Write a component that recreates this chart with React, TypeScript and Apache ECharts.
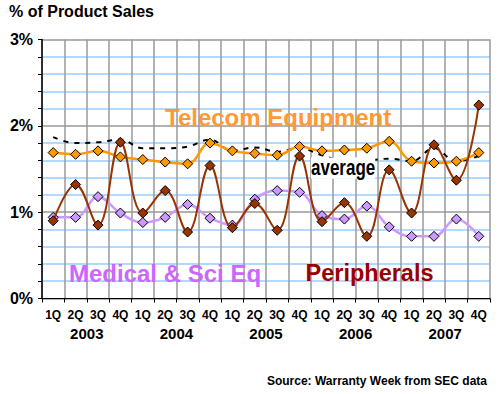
import React, { useEffect, useRef } from "react";
import * as echarts from "echarts";

const quarters = [
  "1Q", "2Q", "3Q", "4Q", "1Q", "2Q", "3Q", "4Q", "1Q", "2Q",
  "3Q", "4Q", "1Q", "2Q", "3Q", "4Q", "1Q", "2Q", "3Q", "4Q",
];
const years = ["2003", "2004", "2005", "2006", "2007"];
const telecom = [1.69, 1.67, 1.71, 1.64, 1.61, 1.58, 1.56, 1.80, 1.71, 1.68, 1.66, 1.76, 1.71, 1.72, 1.74, 1.82, 1.59, 1.57, 1.59, 1.69];
const peripherals = [0.90, 1.32, 0.85, 1.81, 0.99, 1.25, 0.77, 1.54, 0.82, 1.10, 0.79, 1.65, 0.89, 1.11, 0.72, 1.49, 0.99, 1.78, 1.37, 2.24];
const medical = [0.94, 0.94, 1.18, 0.99, 0.88, 0.94, 1.09, 0.93, 0.85, 1.15, 1.25, 1.23, 0.96, 0.92, 1.07, 0.83, 0.72, 0.72, 0.92, 0.72];
const average = [1.87, 1.80, 1.81, 1.84, 1.74, 1.74, 1.76, 1.84, 1.71, 1.75, 1.70, 1.74, 1.66, 1.60, 1.60, 1.62, 1.59, 1.74, 1.59, 1.65];

const FONT = "'Liberation Sans', Arial, sans-serif";

export default function App() {
  const ref = useRef<HTMLDivElement>(null);
  useEffect(() => {
    document.body.style.margin = "0";
    const chart = echarts.init(ref.current!, null, { renderer: "svg" });
    const marker = (color: string) => ({
      symbol: "diamond",
      symbolSize: 10,
      itemStyle: { color, borderColor: "#000", borderWidth: 1 },
    });
    chart.setOption({
      animation: false,
      backgroundColor: "#fff",
      textStyle: { fontFamily: FONT },
      grid: { left: 42, top: 39.5, width: 448, height: 259 },
      xAxis: [
        {
          type: "category",
          data: quarters,
          boundaryGap: true,
          position: "bottom",
          axisLine: { show: true, lineStyle: { color: "#000", width: 1 } },
          axisTick: { show: true, length: 4, lineStyle: { color: "#000" } },
          splitLine: { show: true, lineStyle: { color: "#999999", width: 1.5 } },
          axisLabel: { margin: 10, fontSize: 12, fontWeight: "bold", color: "#000", fontFamily: FONT, interval: 0 },
        },
        {
          type: "category",
          data: years,
          boundaryGap: true,
          position: "bottom",
          axisLine: { show: false },
          axisTick: { show: false },
          splitLine: { show: false },
          axisLabel: { margin: 27, fontSize: 15, fontWeight: "bold", color: "#000", fontFamily: FONT, interval: 0 },
        },
      ],
      yAxis: {
        type: "value",
        min: 0,
        max: 3,
        interval: 0.2,
        axisLine: { show: true, lineStyle: { color: "#000", width: 1.5 } },
        axisTick: { show: true, length: 4, lineStyle: { color: "#000" } },
        splitLine: {
          show: true,
          lineStyle: { color: ["#999999", "#99CCFF", "#99CCFF", "#99CCFF", "#99CCFF"], width: 1.5 },
        },
        axisLabel: {
          margin: 9,
          fontSize: 16,
          fontWeight: "bold",
          color: "#000",
          fontFamily: FONT,
          formatter: (v: number) =>
            Math.abs(v - Math.round(v)) < 1e-6 ? Math.round(v) + "%" : "",
        },
      },
      series: [
        {
          name: "average",
          type: "line",
          data: average,
          smooth: 0.4,
          symbol: "none",
          lineStyle: { color: "#000", width: 2, type: [5, 6] },
          z: 2,
        },
        {
          name: "Medical & Sci Eq",
          type: "line",
          data: medical,
          smooth: 0.4,
          lineStyle: { color: "#CC99FF", width: 2.5 },
          ...marker("#CC99FF"),
          z: 3,
        },
        {
          name: "Telecom Equipment",
          type: "line",
          data: telecom,
          smooth: 0.4,
          lineStyle: { color: "#FF9900", width: 2.5 },
          ...marker("#FF9900"),
          z: 4,
        },
        {
          name: "Peripherals",
          type: "line",
          data: peripherals,
          smooth: 0.4,
          lineStyle: { color: "#993300", width: 2 },
          ...marker("#993300"),
          z: 5,
        },
      ],
      graphic: [
        {
          type: "text",
          x: 9,
          y: 11.5,
          style: { text: "% of Product Sales", font: `bold 16px ${FONT}`, fill: "#000", verticalAlign: "middle", align: "left" },
        },
        {
          type: "text",
          x: 165,
          y: 117.7,
          z: 10,
          style: { text: "Telecom Equipment", font: `bold 24px ${FONT}`, fill: "#FF9933", verticalAlign: "middle", align: "left" },
        },
        {
          type: "text",
          x: 311,
          y: 168,
          scaleY: 1.25,
          z: 10,
          style: {
            text: "average",
            font: `bold 17px ${FONT}`,
            fill: "#000",
            verticalAlign: "middle",
            align: "left",
            backgroundColor: "#fff",
          },
        },
        {
          type: "text",
          x: 69,
          y: 273.3,
          z: 10,
          style: { text: "Medical & Sci Eq", font: `bold 24px ${FONT}`, fill: "#CC66FF", verticalAlign: "middle", align: "left" },
        },
        {
          type: "text",
          x: 305.5,
          y: 273.3,
          z: 10,
          style: { text: "Peripherals", font: `bold 23.5px ${FONT}`, fill: "#990000", verticalAlign: "middle", align: "left" },
        },
        {
          type: "text",
          x: 487,
          y: 380.5,
          style: { text: "Source: Warranty Week from SEC data", font: `bold 12px ${FONT}`, fill: "#000", verticalAlign: "middle", align: "right" },
        },
      ],
    });
    return () => chart.dispose();
  }, []);
  return <div ref={ref} style={{ width: 500, height: 394 }} />;
}
